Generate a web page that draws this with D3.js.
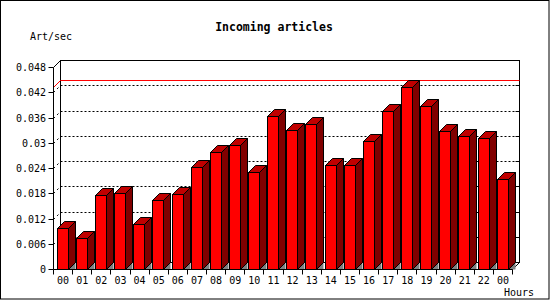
<!DOCTYPE html>
<html>
<head>
<meta charset="utf-8">
<script src="https://cdn.jsdelivr.net/npm/d3@7"></script>
<style>
  html, body { margin: 0; padding: 0; background: #fff; }
  svg { display: block; }
  text { font-family: "DejaVu Sans Mono", monospace; fill: #000; }
</style>
</head>
<body>
<svg id="chart" width="550" height="300"></svg>
<script>
const hours = ["00","01","02","03","04","05","06","07","08","09","10","11",
               "12","13","14","15","16","17","18","19","20","21","22","00"];
const artPerSec = [0.0098,0.0074,0.0177,0.0181,0.0107,0.0165,0.0179,0.0243,
                   0.0279,0.0295,0.0231,0.0364,0.0331,0.0345,0.0247,0.0247,
                   0.0305,0.0376,0.0433,0.0388,0.0329,0.0315,0.0312,0.0215];
const yTickValues = [0,0.006,0.012,0.018,0.024,0.03,0.036,0.042,0.048];
const yTickLabels = ["0","0.006","0.012","0.018","0.024","0.03","0.036","0.042","0.048"];
const titleText = "Incoming articles";
const yTitle = "Art/sec";
const xTitle = "Hours";

(function () {
const svg = d3.select("#chart");
const D = 7;               // 3D depth
const pLeft = 53.5, pRight = 512.5, pBottom = 269.5, pTop = 67.5;
const snap = v => Math.round(v - 0.5) + 0.5;

const y = d3.scaleLinear().domain([0, 0.048]).range([pBottom, pTop]);
const x = d3.scaleBand().domain(d3.range(hours.length)).range([pLeft, pRight]).paddingInner(0).paddingOuter(0);

// frame
svg.append("rect").attr("x",0.5).attr("y",0.5).attr("width",548.5).attr("height",298.5)
  .attr("fill","none").attr("stroke","#000");

// back wall
const g = svg.append("g");
g.append("rect").attr("x", pLeft + D).attr("y", pTop - D).attr("width", pRight - pLeft)
  .attr("height", pBottom - pTop).attr("fill", "none").attr("stroke", "#000");
g.append("line").attr("x1", pLeft).attr("y1", pTop).attr("x2", pLeft + D).attr("y2", pTop - D).attr("stroke","#000");
g.append("line").attr("x1", pRight).attr("y1", pBottom).attr("x2", pRight + D).attr("y2", pBottom - D).attr("stroke","#000");

// gridlines
yTickValues.slice(1, -1).forEach(v => {
  const yy = snap(y(v));
  g.append("line").attr("x1", pLeft + D).attr("x2", pRight + D).attr("y1", yy - D).attr("y2", yy - D)
    .attr("stroke","#000").attr("stroke-dasharray","2,2");
  g.append("line").attr("x1", pLeft).attr("y1", yy).attr("x2", pLeft + D).attr("y2", yy - D)
    .attr("stroke","#000").attr("stroke-dasharray","2,3");
  g.append("line").attr("x1", pRight + D - 4).attr("x2", pRight + D).attr("y1", yy - D).attr("y2", yy - D)
    .attr("stroke","#000");
});

// max line
const maxV = d3.max(artPerSec);
const ym = snap(y(maxV));
g.append("line").attr("x1", pLeft + D).attr("x2", pRight + D).attr("y1", ym - D).attr("y2", ym - D)
  .attr("stroke", "#ff0000");
g.append("line").attr("x1", pLeft).attr("y1", ym).attr("x2", pLeft + D).attr("y2", ym - D)
  .attr("stroke", "#ff0000");

// bars
const bw = x.bandwidth() * 0.6;
const bars = svg.append("g").attr("stroke", "#000").attr("stroke-width", 1).attr("stroke-linejoin","miter");
artPerSec.forEach((v, i) => {
  const x0 = snap(x(i) + (x.bandwidth() - bw) / 2);
  const x1 = snap(x0 + bw);
  const yt = snap(y(v));
  const y0 = pBottom;
  bars.append("polygon")
    .attr("points", [[x1, y0], [x1 + D, y0 - D], [x1 + D, y0]].join(" "))
    .attr("fill", "#808080").attr("stroke", "none");
  bars.append("polygon")
    .attr("points", [[x1, yt], [x1 + D, yt - D], [x1 + D, y0 - D], [x1, y0]].join(" "))
    .attr("fill", "#800000");
  bars.append("polygon")
    .attr("points", [[x0, yt], [x0 + D, yt - D], [x1 + D, yt - D], [x1, yt]].join(" "))
    .attr("fill", "#c00000");
  bars.append("rect").attr("x", x0).attr("y", yt).attr("width", x1 - x0).attr("height", y0 - yt)
    .attr("fill", "#ff0000");
});

// y axis
const ya = svg.append("g");
ya.append("line").attr("x1", pLeft).attr("x2", pLeft).attr("y1", pTop).attr("y2", pBottom).attr("stroke","#000");
yTickValues.forEach((v, i) => {
  const yy = snap(y(v));
  ya.append("line").attr("x1", pLeft - 5).attr("x2", pLeft).attr("y1", yy).attr("y2", yy).attr("stroke","#000");
  ya.append("text").attr("x", 46).attr("y", yy + 3.5).attr("text-anchor","end")
    .attr("font-size", "10px").text(yTickLabels[i]);
});

// x axis
const xa = svg.append("g");
xa.append("line").attr("x1", pLeft).attr("x2", pRight).attr("y1", pBottom).attr("y2", pBottom).attr("stroke","#000");
d3.range(hours.length + 1).forEach(i => {
  const xx = snap(pLeft + i * x.step());
  xa.append("line").attr("x1", xx).attr("x2", xx).attr("y1", pBottom).attr("y2", pBottom + 5).attr("stroke","#000");
});
hours.forEach((h, i) => {
  xa.append("text").attr("x", x(i) + x.bandwidth() / 2).attr("y", 283.5).attr("text-anchor","middle")
    .attr("font-size","10px").text(h);
});

// titles
svg.append("text").attr("x", 274).attr("y", 31).attr("text-anchor","middle")
  .attr("font-size","11.5px").attr("font-weight","bold").text(titleText);
svg.append("text").attr("x", 30).attr("y", 40).attr("font-size","10px").text(yTitle);
svg.append("text").attr("x", 504).attr("y", 296).attr("font-size","10px").text(xTitle);
})();
</script>
</body>
</html>
